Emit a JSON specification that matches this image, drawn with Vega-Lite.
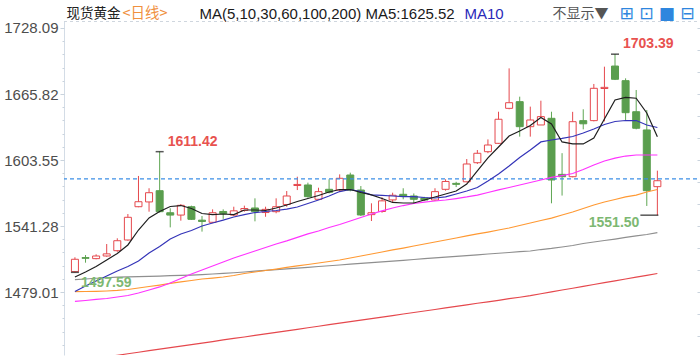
{
"$schema":"https://vega.github.io/schema/vega-lite/v6.json",
"width":633,"height":334,
"autosize":{"type":"none"},
"padding":{"left":64,"top":21,"right":3,"bottom":5},
"background":"white",
"config":{"view":{"stroke":null},"axis":{"grid":false,"titleLimit":1000}},
"datasets":{
"k":[
{"i":1,"o":1498.2,"h":1511.8,"l":1497.59,"c":1509.9,"m5":1493.2,"m10":1479.5,"m30":1470.1,"m60":1479.3,"m100":1490.8,"m200":1413.6},
{"i":2,"o":1511.5,"h":1513.9,"l":1506.7,"c":1510.8,"m5":1497.9,"m10":1484.7,"m30":1471.0,"m60":1479.5,"m100":1491.3,"m200":1415.0},
{"i":3,"o":1510.5,"h":1514.6,"l":1509.9,"c":1513.0,"m5":1503.1,"m10":1489.4,"m30":1472.0,"m60":1479.7,"m100":1492.0,"m200":1416.5},
{"i":4,"o":1513.0,"h":1524.3,"l":1512.3,"c":1515.0,"m5":1509.2,"m10":1494.1,"m30":1472.9,"m60":1480.0,"m100":1492.5,"m200":1417.9},
{"i":5,"o":1518.0,"h":1529.7,"l":1517.0,"c":1527.4,"m5":1515.4,"m10":1498.8,"m30":1474.3,"m60":1480.5,"m100":1493.0,"m200":1419.3},
{"i":6,"o":1528.1,"h":1552.6,"l":1527.4,"c":1549.5,"m5":1523.4,"m10":1503.1,"m30":1475.7,"m60":1481.4,"m100":1493.3,"m200":1420.8},
{"i":7,"o":1559.5,"h":1588.5,"l":1559.0,"c":1564.2,"m5":1537.5,"m10":1508.3,"m30":1478.1,"m60":1482.8,"m100":1493.6,"m200":1422.2},
{"i":8,"o":1564.0,"h":1576.9,"l":1554.8,"c":1572.7,"m5":1548.9,"m10":1515.8,"m30":1480.9,"m60":1484.2,"m100":1493.8,"m200":1423.7},
{"i":9,"o":1574.6,"h":1611.42,"l":1554.0,"c":1554.8,"m5":1555.0,"m10":1521.9,"m30":1483.8,"m60":1485.6,"m100":1494.1,"m200":1425.1},
{"i":10,"o":1553.8,"h":1558.0,"l":1540.0,"c":1551.6,"m5":1559.7,"m10":1529.0,"m30":1487.5,"m60":1487.1,"m100":1494.4,"m200":1426.5},
{"i":11,"o":1551.6,"h":1562.0,"l":1546.3,"c":1560.8,"m5":1560.6,"m10":1533.7,"m30":1491.8,"m60":1488.5,"m100":1494.7,"m200":1428.0},
{"i":12,"o":1559.5,"h":1560.5,"l":1547.0,"c":1547.6,"m5":1557.8,"m10":1537.0,"m30":1496.0,"m60":1489.9,"m100":1495.0,"m200":1429.4},
{"i":13,"o":1546.8,"h":1550.7,"l":1536.0,"c":1545.6,"m5":1553.1,"m10":1541.3,"m30":1499.8,"m60":1491.3,"m100":1495.5,"m200":1430.8},
{"i":14,"o":1544.8,"h":1557.0,"l":1544.0,"c":1553.8,"m5":1552.1,"m10":1544.1,"m30":1503.6,"m60":1492.2,"m100":1496.0,"m200":1432.3},
{"i":15,"o":1555.0,"h":1557.0,"l":1548.0,"c":1553.0,"m5":1552.6,"m10":1546.9,"m30":1507.3,"m60":1493.2,"m100":1496.6,"m200":1433.8},
{"i":16,"o":1551.6,"h":1559.5,"l":1550.7,"c":1555.6,"m5":1552.1,"m10":1549.8,"m30":1511.1,"m60":1494.6,"m100":1497.2,"m200":1435.2},
{"i":17,"o":1556.0,"h":1560.5,"l":1554.8,"c":1557.8,"m5":1556.4,"m10":1552.1,"m30":1514.4,"m60":1496.5,"m100":1497.9,"m200":1436.6},
{"i":18,"o":1558.3,"h":1567.4,"l":1545.7,"c":1554.8,"m5":1556.4,"m10":1554.0,"m30":1517.7,"m60":1497.9,"m100":1498.7,"m200":1438.1},
{"i":19,"o":1554.0,"h":1559.5,"l":1550.0,"c":1557.0,"m5":1555.9,"m10":1555.0,"m30":1521.0,"m60":1499.3,"m100":1499.4,"m200":1439.5},
{"i":20,"o":1554.8,"h":1567.4,"l":1553.3,"c":1559.5,"m5":1558.3,"m10":1555.9,"m30":1524.3,"m60":1500.7,"m100":1500.2,"m200":1440.9},
{"i":21,"o":1561.6,"h":1574.3,"l":1559.5,"c":1569.6,"m5":1561.1,"m10":1557.3,"m30":1527.2,"m60":1502.2,"m100":1500.8,"m200":1442.4},
{"i":22,"o":1579.5,"h":1587.8,"l":1575.2,"c":1580.5,"m5":1564.4,"m10":1559.2,"m30":1530.5,"m60":1503.6,"m100":1501.6,"m200":1443.8},
{"i":23,"o":1580.0,"h":1582.2,"l":1568.0,"c":1569.0,"m5":1567.2,"m10":1562.5,"m30":1533.8,"m60":1505.0,"m100":1502.3,"m200":1445.3},
{"i":24,"o":1566.5,"h":1577.4,"l":1565.8,"c":1573.7,"m5":1570.1,"m10":1565.8,"m30":1536.6,"m60":1506.4,"m100":1503.1,"m200":1446.7},
{"i":25,"o":1575.9,"h":1585.4,"l":1572.0,"c":1573.1,"m5":1573.4,"m10":1569.6,"m30":1539.9,"m60":1507.8,"m100":1503.8,"m200":1448.2},
{"i":26,"o":1575.2,"h":1590.0,"l":1573.7,"c":1586.3,"m5":1575.7,"m10":1573.8,"m30":1542.7,"m60":1509.2,"m100":1504.5,"m200":1449.6},
{"i":27,"o":1589.4,"h":1591.6,"l":1574.0,"c":1575.2,"m5":1575.7,"m10":1575.7,"m30":1546.0,"m60":1511.1,"m100":1505.3,"m200":1451.0},
{"i":28,"o":1575.2,"h":1579.0,"l":1550.7,"c":1551.7,"m5":1572.9,"m10":1573.8,"m30":1549.3,"m60":1513.0,"m100":1506.0,"m200":1452.5},
{"i":29,"o":1552.0,"h":1562.7,"l":1546.0,"c":1553.8,"m5":1570.6,"m10":1570.6,"m30":1552.6,"m60":1514.9,"m100":1506.8,"m200":1453.9},
{"i":30,"o":1555.0,"h":1568.4,"l":1553.8,"c":1565.0,"m5":1567.2,"m10":1570.1,"m30":1555.5,"m60":1516.8,"m100":1507.5,"m200":1455.4},
{"i":31,"o":1565.9,"h":1572.7,"l":1563.0,"c":1570.3,"m5":1563.5,"m10":1569.6,"m30":1558.3,"m60":1518.7,"m100":1508.2,"m200":1456.8},
{"i":32,"o":1571.2,"h":1576.9,"l":1566.5,"c":1569.6,"m5":1563.0,"m10":1569.1,"m30":1560.6,"m60":1520.5,"m100":1508.9,"m200":1458.3},
{"i":33,"o":1569.6,"h":1572.0,"l":1562.7,"c":1566.5,"m5":1563.0,"m10":1569.1,"m30":1562.5,"m60":1522.4,"m100":1509.7,"m200":1459.7},
{"i":34,"o":1567.7,"h":1568.8,"l":1565.0,"c":1565.8,"m5":1565.8,"m10":1568.2,"m30":1563.9,"m60":1524.3,"m100":1510.5,"m200":1461.1},
{"i":35,"o":1565.8,"h":1576.9,"l":1565.0,"c":1573.7,"m5":1568.7,"m10":1567.7,"m30":1564.9,"m60":1526.2,"m100":1511.2,"m200":1462.5},
{"i":36,"o":1575.9,"h":1585.4,"l":1574.6,"c":1583.3,"m5":1571.5,"m10":1568.7,"m30":1565.8,"m60":1528.1,"m100":1511.9,"m200":1464.0},
{"i":37,"o":1581.5,"h":1583.0,"l":1578.0,"c":1580.6,"m5":1574.3,"m10":1571.5,"m30":1567.2,"m60":1530.0,"m100":1512.6,"m200":1465.4},
{"i":38,"o":1583.0,"h":1604.5,"l":1582.5,"c":1599.8,"m5":1580.9,"m10":1574.3,"m30":1568.7,"m60":1531.9,"m100":1513.4,"m200":1466.9},
{"i":39,"o":1601.0,"h":1613.0,"l":1599.8,"c":1609.9,"m5":1593.2,"m10":1577.6,"m30":1570.5,"m60":1533.8,"m100":1514.1,"m200":1468.4},
{"i":40,"o":1611.4,"h":1623.0,"l":1610.0,"c":1617.7,"m5":1605.5,"m10":1583.8,"m30":1572.9,"m60":1535.6,"m100":1514.9,"m200":1469.8},
{"i":41,"o":1619.3,"h":1649.1,"l":1618.7,"c":1642.0,"m5":1615.8,"m10":1590.4,"m30":1575.3,"m60":1537.5,"m100":1515.6,"m200":1471.2},
{"i":42,"o":1652.3,"h":1690.0,"l":1651.4,"c":1657.6,"m5":1626.2,"m10":1597.9,"m30":1577.6,"m60":1539.4,"m100":1516.3,"m200":1472.7},
{"i":43,"o":1658.6,"h":1663.3,"l":1625.6,"c":1635.0,"m5":1630.9,"m10":1605.9,"m30":1580.0,"m60":1541.8,"m100":1517.1,"m200":1474.1},
{"i":44,"o":1635.0,"h":1653.9,"l":1625.6,"c":1641.3,"m5":1636.1,"m10":1613.0,"m30":1582.3,"m60":1544.1,"m100":1517.7,"m200":1475.6},
{"i":45,"o":1636.6,"h":1659.5,"l":1636.6,"c":1644.5,"m5":1643.7,"m10":1620.6,"m30":1584.7,"m60":1546.5,"m100":1519.1,"m200":1477.4},
{"i":46,"o":1642.9,"h":1649.1,"l":1562.7,"c":1584.7,"m5":1637.5,"m10":1622.4,"m30":1587.1,"m60":1548.8,"m100":1520.1,"m200":1479.1},
{"i":47,"o":1590.0,"h":1610.0,"l":1570.0,"c":1587.8,"m5":1620.6,"m10":1623.9,"m30":1588.9,"m60":1551.7,"m100":1521.5,"m200":1480.9},
{"i":48,"o":1587.8,"h":1649.0,"l":1587.2,"c":1639.7,"m5":1618.7,"m10":1625.7,"m30":1590.8,"m60":1554.5,"m100":1522.9,"m200":1482.6},
{"i":49,"o":1640.7,"h":1651.4,"l":1632.5,"c":1637.7,"m5":1618.7,"m10":1629.0,"m30":1594.6,"m60":1557.8,"m100":1524.8,"m200":1484.3},
{"i":50,"o":1640.7,"h":1675.3,"l":1640.0,"c":1671.2,"m5":1624.3,"m10":1632.8,"m30":1598.8,"m60":1561.1,"m100":1526.2,"m200":1486.1},
{"i":51,"o":1671.0,"h":1691.6,"l":1640.0,"c":1672.1,"m5":1642.2,"m10":1637.1,"m30":1602.6,"m60":1563.9,"m100":1527.6,"m200":1487.8},
{"i":52,"o":1692.2,"h":1703.39,"l":1679.0,"c":1679.7,"m5":1660.2,"m10":1639.9,"m30":1605.4,"m60":1566.3,"m100":1529.0,"m200":1489.5},
{"i":53,"o":1678.4,"h":1680.6,"l":1641.3,"c":1648.2,"m5":1662.7,"m10":1640.8,"m30":1607.3,"m60":1568.7,"m100":1530.5,"m200":1491.3},
{"i":54,"o":1649.1,"h":1669.6,"l":1632.5,"c":1633.5,"m5":1661.8,"m10":1640.8,"m30":1608.3,"m60":1570.5,"m100":1531.9,"m200":1493.0},
{"i":55,"o":1631.9,"h":1650.7,"l":1560.2,"c":1574.6,"m5":1647.9,"m10":1636.6,"m30":1608.3,"m60":1573.4,"m100":1533.3,"m200":1494.7},
{"i":56,"o":1578.4,"h":1593.5,"l":1551.5,"c":1584.0,"m5":1625.5,"m10":1634.2,"m30":1608.3,"m60":1575.7,"m100":1535.0,"m200":1496.5}
],
"ann":[
{"i":9,"p":1611.42,"t":"1611.42","k":"hi"},
{"i":52,"p":1703.39,"t":"1703.39","k":"hi"},
{"i":1,"p":1497.59,"t":"1497.59","k":"lo1"},
{"i":56,"p":1551.5,"t":"1551.50","k":"lo2"}
]
},
"resolve":{"axis":{"y":"independent"}},
"layer":[
{"data":{"name":"k"},
 "mark":{"type":"rule","strokeWidth":1},
 "encoding":{
  "x":{"field":"i","type":"quantitative","scale":{"domain":[0.44,59.27],"nice":false,"zero":false},"axis":null},
  "y":{"field":"l","type":"quantitative","scale":{"domain":[1419.6,1734.69],"nice":false,"zero":false},
   "axis":{"orient":"left","values":[1479.01,1541.28,1603.55,1665.82,1728.09],"format":".2f","labelFont":"Liberation Sans","labelFontSize":15,"labelColor":"#4d4d4d","labelPadding":2,"tickSize":4,"tickColor":"#c9d3dd","domainColor":"#d3dce6","grid":false,
    "title":"现货黄金","titleX":2,"titleY":-8,"titleAngle":0,"titleAlign":"left","titleBaseline":"middle","titleFont":"Noto Sans CJK SC","titleFontSize":13.5,"titleFontWeight":"normal","titleColor":"#222222"}},
  "y2":{"field":"h"},
  "color":{"condition":{"test":"datum.c >= datum.o","value":"#e5484d"},"value":"#5fa653"}
 }},
{"data":{"name":"k"},
 "mark":{"type":"bar","size":7,"strokeWidth":1},
 "encoding":{
  "x":{"field":"i","type":"quantitative","scale":{"domain":[0.44,59.27],"nice":false,"zero":false},"axis":null},
  "y":{"field":"o","type":"quantitative","scale":{"domain":[1419.6,1734.69],"nice":false,"zero":false},
   "axis":{"orient":"left","values":[1429.194,1441.648,1454.102,1466.556,1479.01,1491.464,1503.918,1516.372,1528.826,1541.28,1553.734,1566.188,1578.642,1591.096,1603.55,1616.004,1628.458,1640.912,1653.366,1665.82,1678.274,1690.728,1703.182,1715.636,1728.09],"labels":false,"domain":false,"tickSize":2,"tickColor":"#c9d3dd","grid":false,
    "title":"<日线>","titleX":58,"titleY":-8,"titleAngle":0,"titleAlign":"left","titleBaseline":"middle","titleFont":"Noto Sans CJK SC","titleFontSize":14.5,"titleFontWeight":"normal","titleColor":"#f0913f"}},
  "y2":{"field":"c"},
  "fill":{"condition":{"test":"datum.c >= datum.o","value":"#ffffff"},"value":"#5a9e4e"},
  "stroke":{"condition":{"test":"datum.c >= datum.o","value":"#e5484d"},"value":"#5a9e4e"}
 }},
{"data":{"values":[{}]},
 "mark":{"type":"rule","color":"#3d8fe6","strokeDash":[4,3],"strokeWidth":1.2},
 "encoding":{"y":{"datum":1585.7,"type":"quantitative","scale":{"domain":[1419.6,1734.69],"nice":false,"zero":false},"axis":null}}},
{"data":{"values":[{}]},
 "mark":{"type":"rule","color":"#cfd6de","strokeDash":[3,3],"strokeWidth":1},
 "encoding":{"y":{"datum":1734.2,"type":"quantitative","scale":{"domain":[1419.6,1734.69],"nice":false,"zero":false},"axis":null}}},
{"data":{"name":"k"},
 "transform":[{"fold":["m200","m100","m60","m30","m10","m5"],"as":["ma","v"]}],
 "mark":{"type":"line","strokeWidth":1.2,"clip":true},
 "encoding":{
  "x":{"field":"i","type":"quantitative","scale":{"domain":[0.44,59.27],"nice":false,"zero":false},"axis":null},
  "y":{"field":"v","type":"quantitative","scale":{"domain":[1419.6,1734.69],"nice":false,"zero":false},
   "axis":{"orient":"right","values":[1437.5,1458.25,1479.01,1499.77,1520.52,1541.28,1562.04,1582.79,1603.55,1624.31,1645.06,1665.82,1686.58,1707.33,1728.09],"labels":false,"domain":false,"tickSize":3,"tickColor":"#c9d3dd","grid":false,
    "title":"⊞ ⊡ ■ ⊟","titleX":-78,"titleY":-8,"titleAngle":0,"titleAlign":"left","titleBaseline":"middle","titleFont":"DejaVu Sans","titleFontSize":17,"titleFontWeight":"normal","titleColor":"#2e86de"}},
  "color":{"field":"ma","type":"nominal","scale":{"domain":["m5","m10","m30","m60","m100","m200"],"range":["#1f1f1f","#3434b8","#ff33ff","#ff9933","#8f8f8f","#e5484d"]},"legend":null}
 }},
{"data":{"name":"ann"},
 "transform":[{"filter":"datum.k != 'lo2'"}],
 "mark":{"type":"tick","orient":"horizontal","size":8,"thickness":1.5,"color":"#111111"},
 "encoding":{
  "x":{"field":"i","type":"quantitative","scale":{"domain":[0.44,59.27],"nice":false,"zero":false},"axis":null},
  "y":{"field":"p","type":"quantitative","scale":{"domain":[1419.6,1734.69],"nice":false,"zero":false},
   "axis":{"orient":"left","labels":false,"ticks":false,"domain":false,"grid":false,
    "title":"MA(5,10,30,60,100,200) MA5:1625.52","titleX":135,"titleY":-8,"titleAngle":0,"titleAlign":"left","titleBaseline":"middle","titleFont":"Liberation Sans","titleFontSize":15,"titleFontWeight":"normal","titleColor":"#1a1a1a"}}
 }},
{"data":{"name":"ann"},
 "transform":[{"filter":"datum.k == 'lo2'"}],
 "mark":{"type":"tick","orient":"horizontal","size":18,"thickness":1.5,"color":"#111111","xOffset":-8},
 "encoding":{
  "x":{"field":"i","type":"quantitative","scale":{"domain":[0.44,59.27],"nice":false,"zero":false},"axis":null},
  "y":{"field":"p","type":"quantitative","scale":{"domain":[1419.6,1734.69],"nice":false,"zero":false},
   "axis":{"orient":"left","labels":false,"ticks":false,"domain":false,"grid":false,
    "title":"MA10","titleX":400,"titleY":-8,"titleAngle":0,"titleAlign":"left","titleBaseline":"middle","titleFont":"Liberation Sans","titleFontSize":15,"titleFontWeight":"normal","titleColor":"#2929b8"}}
 }},
{"data":{"name":"ann"},
 "transform":[{"filter":"datum.k == 'hi'"}],
 "mark":{"type":"text","align":"left","baseline":"middle","dx":8,"dy":-10,"font":"Liberation Sans","fontSize":14,"fontWeight":"bold","color":"#e8524f"},
 "encoding":{
  "x":{"field":"i","type":"quantitative","scale":{"domain":[0.44,59.27],"nice":false,"zero":false},"axis":null},
  "y":{"field":"p","type":"quantitative","scale":{"domain":[1419.6,1734.69],"nice":false,"zero":false},
   "axis":{"orient":"left","labels":false,"ticks":false,"domain":false,"grid":false,
    "title":"不显示▼","titleX":488,"titleY":-8,"titleAngle":0,"titleAlign":"left","titleBaseline":"middle","titleFont":"Noto Sans CJK SC","titleFontSize":14,"titleFontWeight":"normal","titleColor":"#555555"}},
  "text":{"field":"t"}
 }},
{"data":{"name":"ann"},
 "transform":[{"filter":"datum.k == 'lo1'"}],
 "mark":{"type":"text","align":"left","baseline":"middle","dx":6,"dy":11,"font":"Liberation Sans","fontSize":14,"fontWeight":"bold","color":"#7db872"},
 "encoding":{
  "x":{"field":"i","type":"quantitative","scale":{"domain":[0.44,59.27],"nice":false,"zero":false},"axis":null},
  "y":{"field":"p","type":"quantitative","scale":{"domain":[1419.6,1734.69],"nice":false,"zero":false},"axis":null},
  "text":{"field":"t"}
 }},
{"data":{"name":"ann"},
 "transform":[{"filter":"datum.k == 'lo2'"}],
 "mark":{"type":"text","align":"right","baseline":"middle","dx":-18,"dy":8,"font":"Liberation Sans","fontSize":14,"fontWeight":"bold","color":"#7db872"},
 "encoding":{
  "x":{"field":"i","type":"quantitative","scale":{"domain":[0.44,59.27],"nice":false,"zero":false},"axis":null},
  "y":{"field":"p","type":"quantitative","scale":{"domain":[1419.6,1734.69],"nice":false,"zero":false},"axis":null},
  "text":{"field":"t"}
 }}
]
}
